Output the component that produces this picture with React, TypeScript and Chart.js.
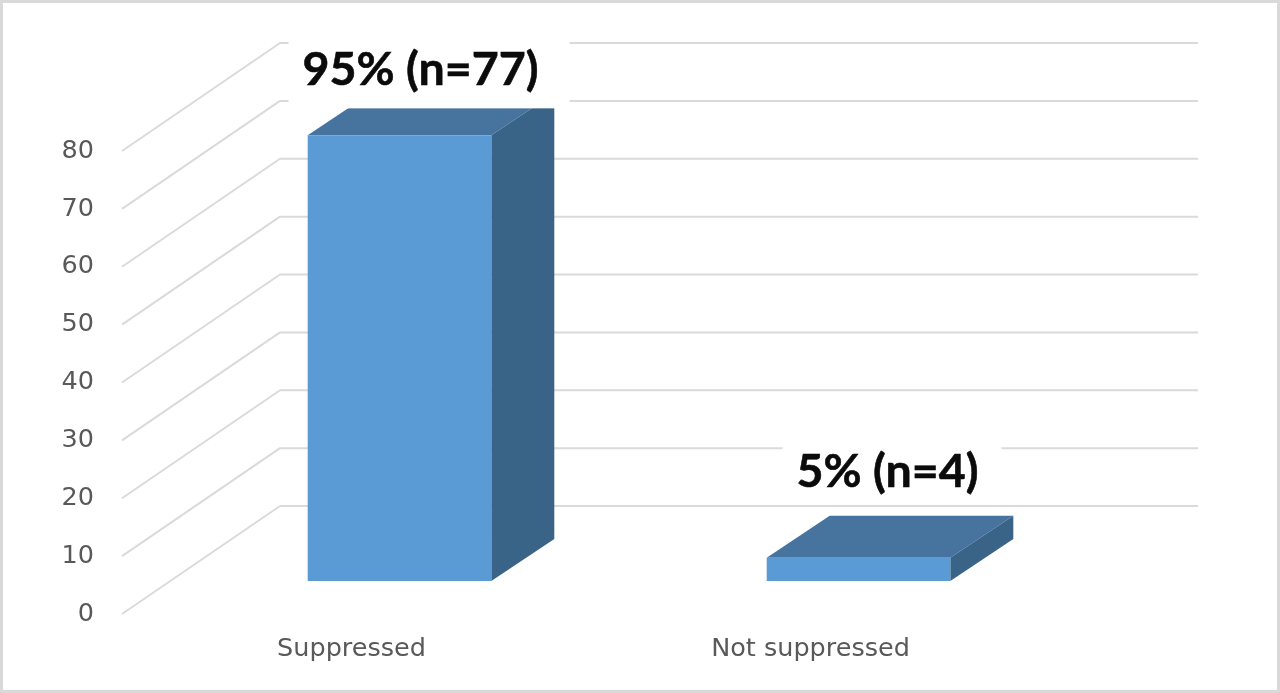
import React, { useEffect, useRef } from "react";
import { Chart, registerables } from "chart.js";

Chart.register(...registerables);

const categories = ["Suppressed", "Not suppressed"];
const counts = [77, 4];
const dataLabels = ["95% (n=77)", "5% (n=4)"];
const yTicks = [0, 10, 20, 30, 40, 50, 60, 70, 80];

const W = 1280;
const H = 693;
const AREA = { left: 122, right: 1040, top: 151, bottom: 614 };
const WALL = { dx: 158, dy: -108, right: 1198 };
const BAR_SHIFT = { x: 48, y: -33 };
const BAR_DEPTH = { x: 63, y: -42 };
const COLORS = {
  front: "#5B9BD5",
  top: "#46749F",
  side: "#3A6487",
  grid: "#DADADA",
  axisText: "#595959",
  label: "#0B0B0B",
  frame: "#D9D9D9",
};
const AXIS_FONT = { family: "'DejaVu Sans'", size: 25.5 };
const LABEL_FONT = "bold 46.5px Lato";
// Placement of the white label boxes and their text relative to each bar's front face.
const LABEL_LAYOUT = [
  { textDx: 21, textDy: -65, boxLeft: -111, boxRight: 170, boxTop: -106, boxBottom: -27 },
  { textDx: 29, textDy: -86, boxLeft: -76, boxRight: 143, boxTop: -113, boxBottom: -60 },
];

const wallPlugin = {
  id: "wall",
  beforeDatasetsDraw(chart: any) {
    const { ctx, scales } = chart;
    const y = scales.y;
    ctx.save();
    ctx.strokeStyle = COLORS.grid;
    ctx.lineWidth = 2;
    ctx.lineJoin = "round";
    y.ticks.forEach((t: any) => {
      const py = y.getPixelForValue(t.value);
      ctx.beginPath();
      ctx.moveTo(chart.chartArea.left, py);
      ctx.lineTo(chart.chartArea.left + WALL.dx, py + WALL.dy);
      ctx.lineTo(WALL.right, py + WALL.dy);
      ctx.stroke();
    });
    ctx.restore();
  },
};

const depthPlugin = {
  id: "depth",
  beforeDatasetDraw(chart: any, args: any) {
    const { ctx } = chart;
    ctx.save();
    ctx.translate(BAR_SHIFT.x, BAR_SHIFT.y);
    args.meta.data.forEach((el: any) => {
      const l = el.x - el.width / 2;
      const r = el.x + el.width / 2;
      const t = el.y;
      const b = el.base;
      ctx.fillStyle = COLORS.top;
      ctx.beginPath();
      ctx.moveTo(l, t);
      ctx.lineTo(l + BAR_DEPTH.x, t + BAR_DEPTH.y);
      ctx.lineTo(r + BAR_DEPTH.x, t + BAR_DEPTH.y);
      ctx.lineTo(r, t);
      ctx.closePath();
      ctx.fill();
      ctx.fillStyle = COLORS.side;
      ctx.beginPath();
      ctx.moveTo(r, t);
      ctx.lineTo(r + BAR_DEPTH.x, t + BAR_DEPTH.y);
      ctx.lineTo(r + BAR_DEPTH.x, b + BAR_DEPTH.y);
      ctx.lineTo(r, b);
      ctx.closePath();
      ctx.fill();
    });
  },
  afterDatasetDraw(chart: any) {
    chart.ctx.restore();
  },
};

const labelPlugin = {
  id: "labels",
  afterDatasetsDraw(chart: any) {
    const { ctx } = chart;
    const meta = chart.getDatasetMeta(0);
    ctx.save();
    meta.data.forEach((el: any, i: number) => {
      const cx = el.x + BAR_SHIFT.x;
      const top = el.y + BAR_SHIFT.y;
      const lay = LABEL_LAYOUT[i];
      ctx.fillStyle = "#FFFFFF";
      ctx.fillRect(
        cx + lay.boxLeft,
        top + lay.boxTop,
        lay.boxRight - lay.boxLeft,
        lay.boxBottom - lay.boxTop
      );
      ctx.fillStyle = COLORS.label;
      ctx.strokeStyle = COLORS.label;
      ctx.lineWidth = 0.6;
      ctx.font = LABEL_FONT;
      ctx.textAlign = "center";
      ctx.textBaseline = "middle";
      ctx.fillText(dataLabels[i], cx + lay.textDx, top + lay.textDy);
      ctx.strokeText(dataLabels[i], cx + lay.textDx, top + lay.textDy);
    });
    ctx.lineWidth = 3;
    ctx.strokeStyle = COLORS.frame;
    ctx.strokeRect(1.5, 1.5, W - 3, H - 3);
    ctx.restore();
  },
};

export default function App() {
  const ref = useRef<HTMLCanvasElement | null>(null);

  useEffect(() => {
    if (!ref.current) return;
    const chart = new Chart(ref.current, {
      type: "bar",
      data: {
        labels: categories,
        datasets: [
          {
            data: counts,
            backgroundColor: COLORS.front,
            borderWidth: 0,
            barPercentage: 0.4,
            categoryPercentage: 1,
            clip: false,
          } as any,
        ],
      },
      options: {
        animation: false,
        responsive: false,
        devicePixelRatio: 1,
        layout: {
          padding: { left: 0, top: AREA.top, right: W - AREA.right, bottom: 0 },
        },
        plugins: { legend: { display: false }, tooltip: { enabled: false } },
        scales: {
          x: {
            grid: { display: false },
            border: { display: false },
            ticks: {
              color: COLORS.axisText,
              font: AXIS_FONT,
              padding: 12,
              autoSkip: false,
              maxRotation: 0,
            },
            afterFit(scale: any) {
              scale.height = H - AREA.bottom;
            },
          },
          y: {
            min: 0,
            max: 80,
            afterBuildTicks(scale: any) {
              scale.ticks = yTicks.map((value) => ({ value }));
            },
            grid: { display: false },
            border: { display: false },
            ticks: {
              color: COLORS.axisText,
              font: AXIS_FONT,
              padding: 20,
              labelOffset: 0,
            },
            afterFit(scale: any) {
              scale.width = AREA.left;
            },
          },
        },
      },
      plugins: [wallPlugin, depthPlugin, labelPlugin],
    } as any);
    return () => chart.destroy();
  }, []);

  return (
    <div style={{ position: "fixed", left: 0, top: 0, width: W, height: H, background: "#fff" }}>
      <canvas
        ref={ref}
        width={W}
        height={H}
        style={{ display: "block", width: W, height: H, filter: "blur(0.4px)" }}
      />
    </div>
  );
}
